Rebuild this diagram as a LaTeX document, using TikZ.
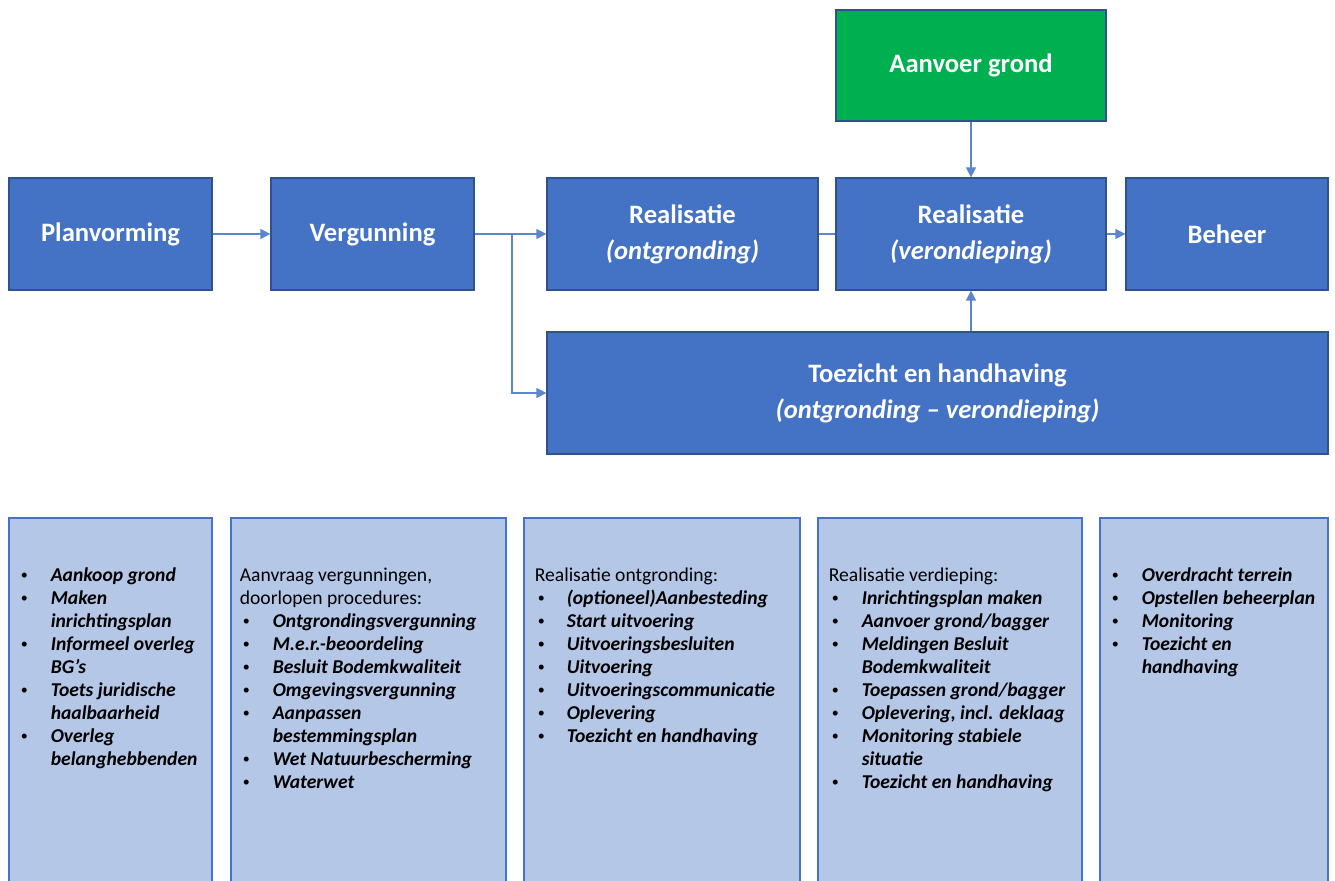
\documentclass[tikz,border=0pt]{standalone}
\usepackage{fontspec}
\setmainfont{Carlito}
\usetikzlibrary{arrows.meta,calc}
\definecolor{phaseblue}{HTML}{4472C4}
\definecolor{phaseline}{HTML}{2F528F}
\definecolor{feedgreen}{HTML}{00B050}
\definecolor{infofill}{HTML}{B4C7E7}
\definecolor{linkblue}{HTML}{5B85CC}
\newcommand{\bhead}[1]{\multicolumn{2}{@{}l@{}}{#1}\\}
\newcommand{\bitem}[1]{\hspace{1.5pt}\raisebox{0.9pt}{\fontsize{7}{7}\selectfont\textbullet} & \textbf{\textit{#1}}\\}
\newcommand{\bcont}[1]{& \textbf{\textit{#1}}\\}
\tikzset{%
  phase/.style    = {shape=rectangle, draw=phaseline, fill=phaseblue,%
                     text=white, align=center, inner sep=0pt,%
                     line width=0.6pt, minimum height=56pt,%
                     font=\fontsize{13.3}{18}\selectfont\bfseries},%
  supply/.style   = {phase, fill=feedgreen, minimum height=55.5pt},%
  infobox/.style  = {shape=rectangle, draw=phaseblue, fill=infofill,%
                     line width=0.6pt, inner sep=0pt, minimum height=183pt},%
  infotext/.style = {anchor=north west, inner sep=0pt,%
                     font=\fontsize{9.8}{11.5}\selectfont},%
  link/.style     = {draw=linkblue, line width=0.6pt},%
  flow/.style     = {link, -{Triangle[length=5pt,width=5pt]}}%
}

\begin{document}
\begin{tikzpicture}[x=0.5pt,y=-0.5pt]
	\useasboundingbox (0,0) rectangle (1335,881);
	% process phases
	\node[supply, minimum width=135pt] (aanvoer) at (971,65.5) {Aanvoer grond};
	\node[phase, minimum width=101.5pt] (plan) at (110.5,234) {Planvorming};
	\node[phase, minimum width=101.5pt] (verg) at (372.5,234) {Vergunning};
	\node[phase, minimum width=135.5pt] (realo) at (682.5,234)
		{Realisatie\\\textit{(ontgronding)}};
	\node[phase, minimum width=135pt] (realv) at (971,234)
		{Realisatie\\\textit{(verondieping)}};
	\node[phase, minimum width=101pt] (beheer) at (1227,234) {Beheer};
	\node[phase, minimum width=390.5pt, minimum height=61pt] (toezicht) at (937.5,393)
		{Toezicht en handhaving\\\textit{(ontgronding -- verondieping)}};
	% connectors
	\coordinate (split) at (512,234);
	\draw[flow] (plan) -- (verg);
	\draw[flow] (verg) -- (realo);
	\draw[flow] (split) |- (toezicht.west);
	\draw[link] (realo) -- (realv);
	\draw[flow] (realv) -- (beheer);
	\draw[flow] (aanvoer) -- (realv);
	\draw[flow] (toezicht.north -| realv.south) -- (realv.south);
	% activity boxes
	\node[infobox, minimum width=101.5pt] (acta) at (110.5,701) {};
	\node[infobox, minimum width=137.5pt] (actb) at (368.5,701) {};
	\node[infobox, minimum width=138pt] (actc) at (662,701) {};
	\node[infobox, minimum width=132pt] (actd) at (950,701) {};
	\node[infobox, minimum width=114pt] (acte) at (1214,701) {};
	\node[infotext] (lista) at ([xshift=4.5pt,yshift=-23.75pt]acta.north west) {%
		\begin{tabular}{@{}p{16.5pt}@{}l@{}}
		\bitem{Aankoop grond}
		\bitem{Maken}
		\bcont{inrichtingsplan}
		\bitem{Informeel overleg}
		\bcont{BG’s}
		\bitem{Toets juridische}
		\bcont{haalbaarheid}
		\bitem{Overleg}
		\bcont{belanghebbenden}
		\end{tabular}};
	\node[infotext] (listb) at ([xshift=4.5pt,yshift=-23.75pt]actb.north west) {%
		\begin{tabular}{@{}p{16.5pt}@{}l@{}}
		\bhead{Aanvraag vergunningen,}
		\bhead{doorlopen procedures:}
		\bitem{Ontgrondingsvergunning}
		\bitem{M.e.r.-beoordeling}
		\bitem{Besluit Bodemkwaliteit}
		\bitem{Omgevingsvergunning}
		\bitem{Aanpassen}
		\bcont{bestemmingsplan}
		\bitem{Wet Natuurbescherming}
		\bitem{Waterwet}
		\end{tabular}};
	\node[infotext] (listc) at ([xshift=5.5pt,yshift=-23.75pt]actc.north west) {%
		\begin{tabular}{@{}p{16pt}@{}l@{}}
		\bhead{Realisatie ontgronding:}
		\bitem{(optioneel)Aanbesteding}
		\bitem{Start uitvoering}
		\bitem{Uitvoeringsbesluiten}
		\bitem{Uitvoering}
		\bitem{Uitvoeringscommunicatie}
		\bitem{Oplevering}
		\bitem{Toezicht en handhaving}
		\end{tabular}};
	\node[infotext] (listd) at ([xshift=5.5pt,yshift=-23.75pt]actd.north west) {%
		\begin{tabular}{@{}p{16.5pt}@{}l@{}}
		\bhead{Realisatie verdieping:}
		\bitem{Inrichtingsplan maken}
		\bitem{Aanvoer grond/bagger}
		\bitem{Meldingen Besluit}
		\bcont{Bodemkwaliteit}
		\bitem{Toepassen grond/bagger}
		\bitem{Oplevering, incl. deklaag}
		\bitem{Monitoring stabiele}
		\bcont{situatie}
		\bitem{Toezicht en handhaving}
		\end{tabular}};
	\node[infotext] (liste) at ([xshift=4.5pt,yshift=-23.75pt]acte.north west) {%
		\begin{tabular}{@{}p{16.5pt}@{}l@{}}
		\bitem{Overdracht terrein}
		\bitem{Opstellen beheerplan}
		\bitem{Monitoring}
		\bitem{Toezicht en}
		\bcont{handhaving}
		\end{tabular}};
\end{tikzpicture}
\end{document}
